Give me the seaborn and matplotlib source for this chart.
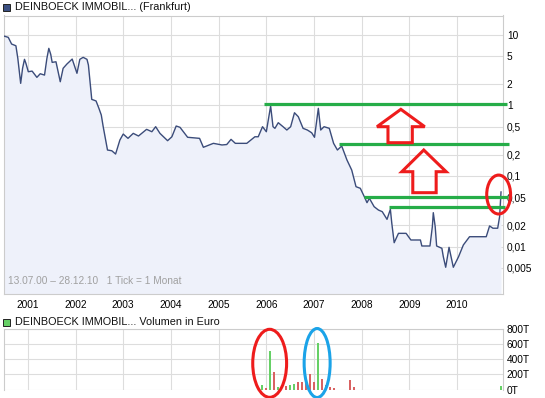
import matplotlib
matplotlib.use("Agg")
import matplotlib.pyplot as plt
import matplotlib.transforms as mtrans
from matplotlib.patches import Polygon, Ellipse, Rectangle
import numpy as np
import pandas as pd
import seaborn as sns

# ---------------- data ----------------
price_year = [2000.50, 2000.59, 2000.66, 2000.75, 2000.79, 2000.85, 2000.89, 2000.93, 2000.96, 2001.01,
              2001.09, 2001.19, 2001.26, 2001.35, 2001.40, 2001.44, 2001.48, 2001.51, 2001.59, 2001.68,
              2001.74, 2001.82, 2001.93, 2002.03, 2002.09, 2002.16, 2002.24, 2002.27, 2002.34, 2002.43,
              2002.49, 2002.54, 2002.58, 2002.67, 2002.76, 2002.84, 2002.93, 2003.00, 2003.10, 2003.21,
              2003.32, 2003.49, 2003.60, 2003.68, 2003.77, 2003.93, 2004.02, 2004.11, 2004.19, 2004.35,
              2004.60, 2004.68, 2004.89, 2005.07, 2005.17, 2005.26, 2005.35, 2005.59, 2005.76, 2005.83,
              2005.92, 2006.00, 2006.09, 2006.14, 2006.18, 2006.25, 2006.35, 2006.43, 2006.51, 2006.59,
              2006.67, 2006.77, 2006.86, 2006.95, 2007.01, 2007.09, 2007.14, 2007.21, 2007.32, 2007.41,
              2007.49, 2007.58, 2007.69, 2007.79, 2007.88, 2007.97, 2008.07, 2008.11, 2008.16, 2008.26,
              2008.35, 2008.43, 2008.53, 2008.60, 2008.63, 2008.68, 2008.77, 2008.93, 2009.03, 2009.23,
              2009.26, 2009.43, 2009.48, 2009.50, 2009.54, 2009.57, 2009.68, 2009.71, 2009.76, 2009.83,
              2009.92, 2010.03, 2010.13, 2010.26, 2010.61, 2010.68, 2010.75, 2010.85, 2010.89, 2010.92]
price_eur = [9.52, 9.13, 7.34, 6.94, 4.61, 2.04, 3.33, 4.46, 3.91, 2.98,
             3.04, 2.48, 2.79, 2.67, 4.61, 6.38, 5.25, 4.04, 4.12, 2.15,
             3.33, 3.83, 4.50, 2.83, 4.46, 4.76, 4.46, 3.70, 1.21, 1.15,
             0.904, 0.727, 0.497, 0.2325, 0.227, 0.204, 0.322, 0.391, 0.340, 0.400,
             0.367, 0.456, 0.422, 0.497, 0.400, 0.315, 0.358, 0.508, 0.487, 0.352,
             0.340, 0.254, 0.289, 0.274, 0.278, 0.329, 0.289, 0.289, 0.358, 0.358,
             0.497, 0.422, 0.974, 0.497, 0.471, 0.566, 0.497, 0.446, 0.497, 0.783,
             0.688, 0.471, 0.446, 0.408, 0.352, 0.904, 0.446, 0.497, 0.471, 0.289,
             0.2325, 0.265, 0.168, 0.121, 0.0704, 0.0668, 0.0482, 0.0418, 0.0482, 0.0367,
             0.0329, 0.0312, 0.0243, 0.0337, 0.0214, 0.01135, 0.0154, 0.0154, 0.0124, 0.0124,
             0.0102, 0.0102, 0.0191, 0.0302, 0.0191, 0.0102, 0.00946, 0.0072, 0.0051, 0.00977,
             0.0051, 0.0072, 0.01054, 0.0138, 0.0138, 0.0196, 0.0182, 0.0182, 0.0265, 0.0598]

vol_month = ["2005-11", "2005-12", "2006-01", "2006-02", "2006-03", "2006-05", "2006-06",
             "2006-07", "2006-08", "2006-09", "2006-10", "2006-11", "2006-12", "2007-01",
             "2007-02", "2007-03", "2007-04", "2007-05", "2007-09", "2007-10", "2010-11"]
vol_teur = [58, 18, 511, 231, 31, 44, 62, 71, 98, 98, 80, 204, 102, 622, 138, 58, 31, 18, 124, 31, 47]
vol_dir = ["up", "down", "up", "down", "up", "down", "up", "up", "down", "down", "down",
           "down", "down", "up", "down", "down", "down", "down", "down", "down", "up"]

year_ticks = [2001, 2002, 2003, 2004, 2005, 2006, 2007, 2008, 2009, 2010]
price_ticks = [10, 5, 2, 1, 0.5, 0.2, 0.1, 0.05, 0.02, 0.01, 0.005]
price_tick_labels = ["10", "5", "2", "1", "0,5", "0,2", "0,1", "0,05", "0,02", "0,01", "0,005"]
vol_ticks = [0, 200, 400, 600, 800]
vol_tick_labels = ["0T", "200T", "400T", "600T", "800T"]

# green resistance / support lines: (level, from year, to year)
level_lines = [(1.03, 2005.95, 2011.05), (0.28, 2007.53, 2011.09),
               (0.0498, 2008.04, 2011.06), (0.0363, 2008.58, 2011.01)]

X_MIN, X_MAX = 2000.49, 2010.955
Y_MIN, Y_MAX = 0.00217, 18.6

# ---------------- style ----------------
sns.set_style("white")
plt.rcParams["font.family"] = ["Liberation Sans", "DejaVu Sans"]

GRID = "#DDDDDD"
SPINE = "#CCCCCC"
LINE = "#3B4C7A"
FILL = "#EEF1FA"
GREEN_LVL = "#26AD48"
RED = "#EE1C1C"
BLUE = "#1BA3E8"
BAR_UP = "#66D066"
BAR_DN = "#D96262"

W, H = 545, 398
fig = plt.figure(figsize=(W / 100, H / 100), dpi=100)

def fx(px):
    return px / W

def fy(py):
    return 1 - py / H

ax = fig.add_axes([fx(3.5), fy(293.5), (502.7 - 3.5) / W, (293.5 - 15.5) / H])
axv = fig.add_axes([fx(3.5), fy(389.5), (502.7 - 3.5) / W, (389.5 - 329.3) / H])

# ---------------- price panel ----------------
df = pd.DataFrame({"year": price_year, "price": price_eur})
ax.set_yscale("log")
ax.fill_between(df["year"], df["price"], Y_MIN, color=FILL, lw=0, zorder=1)
sns.lineplot(data=df, x="year", y="price", ax=ax, color=LINE, lw=1.0,
             estimator=None, sort=False, zorder=3)
ax.set_xlim(X_MIN, X_MAX)
ax.set_ylim(Y_MIN, Y_MAX)
ax.set_xlabel("")
ax.set_ylabel("")
ax.set_yticks(price_ticks)
ax.set_yticklabels(price_tick_labels)
ax.yaxis.set_minor_locator(matplotlib.ticker.NullLocator())
ax.yaxis.tick_right()
ax.set_xticks(year_ticks)
ax.set_xticklabels([str(y) for y in year_ticks])
ax.tick_params(axis="y", length=0, pad=3, labelsize=7.3, colors="black")
ax.tick_params(axis="x", length=0, pad=5, labelsize=7.3, colors="black")
ax.grid(True, color=GRID, lw=0.8, zorder=0)
ax.set_axisbelow(True)
for s in ax.spines.values():
    s.set_color(SPINE)
    s.set_linewidth(0.8)

ax.text(0.009, 0.028, "13.07.00 \u2013 28.12.10   1 Tick = 1 Monat", transform=ax.transAxes,
        fontsize=7.3, color="#A0A0A0", ha="left", va="bottom", zorder=4)

for lvl, x0, x1 in level_lines:
    ax.plot([x0, x1], [lvl, lvl], color=GREEN_LVL, lw=2.3, solid_capstyle="butt",
            clip_on=False, zorder=5)

# hollow red arrows (annotation)
def up_arrow(xc_l, xc_r, head_l, head_r, tip_x, y_bot, y_head, y_tip):
    pts = [(tip_x, y_tip), (head_r, y_head), (xc_r, y_head), (xc_r, y_bot),
           (xc_l, y_bot), (xc_l, y_head), (head_l, y_head)]
    return Polygon(pts, closed=True, fill=False, edgecolor=RED, lw=2.2,
                   joinstyle="miter", zorder=6)

ax.add_patch(up_arrow(2008.55, 2009.06, 2008.32, 2009.32, 2008.82, 0.295, 0.497, 0.875))
ax.add_patch(up_arrow(2009.07, 2009.56, 2008.84, 2009.77, 2009.30, 0.0579, 0.1147, 0.2325))

blend_main = mtrans.blended_transform_factory(ax.transData, ax.transAxes)
ax.add_patch(Ellipse((2010.87, 0.356), 0.50, 0.14, transform=blend_main, fill=False,
                     edgecolor=RED, lw=2.2, clip_on=False, zorder=7))

# ---------------- volume panel ----------------
vm = pd.to_datetime(vol_month)
vdf = pd.DataFrame({
    "t": vm.year + vm.month / 12.0,
    "vol": np.array(vol_teur, dtype=float),
    "dir": vol_dir,
})
sns.barplot(data=vdf, x="t", y="vol", hue="dir", palette={"up": BAR_UP, "down": BAR_DN},
            native_scale=True, dodge=False, width=0.5, saturation=1, linewidth=0,
            legend=False, ax=axv, zorder=3)
axv.set_xlim(X_MIN, X_MAX)
axv.set_ylim(0, 800)
axv.set_xlabel("")
axv.set_ylabel("")
axv.set_xticks(year_ticks)
axv.set_xticklabels([])
axv.set_yticks(vol_ticks)
axv.set_yticklabels(vol_tick_labels)
axv.yaxis.tick_right()
axv.tick_params(axis="y", length=0, pad=3, labelsize=7.3, colors="black")
axv.tick_params(axis="x", length=0)
axv.grid(True, color=GRID, lw=0.8, zorder=0)
axv.set_axisbelow(True)
for s in axv.spines.values():
    s.set_color(SPINE)
    s.set_linewidth(0.8)
axv.spines["bottom"].set_visible(False)

blend_vol = mtrans.blended_transform_factory(axv.transData, axv.transAxes)
axv.add_patch(Ellipse((2006.07, 0.435), 0.71, 1.13, transform=blend_vol, fill=False,
                      edgecolor=RED, lw=2.2, clip_on=False, zorder=7))
axv.add_patch(Ellipse((2007.065, 0.44), 0.545, 1.146, transform=blend_vol, fill=False,
                      edgecolor=BLUE, lw=2.2, clip_on=False, zorder=7))

# ---------------- headers ----------------
fig.patches.append(Rectangle((fx(3), fy(11)), 7 / W, 7 / H, transform=fig.transFigure,
                             facecolor="#3C5082", edgecolor="#222222", lw=0.7))
fig.text(fx(15), fy(7.5), "DEINBOECK IMMOBIL... (Frankfurt)", fontsize=7.8,
         ha="left", va="center", color="#111111")
fig.patches.append(Rectangle((fx(3), fy(325.5)), 7 / W, 7 / H, transform=fig.transFigure,
                             facecolor=BAR_UP, edgecolor="#222222", lw=0.7))
fig.text(fx(15), fy(322), "DEINBOECK IMMOBIL... Volumen in Euro", fontsize=7.8,
         ha="left", va="center", color="#111111")

fig.savefig("out.png", dpi=100)
